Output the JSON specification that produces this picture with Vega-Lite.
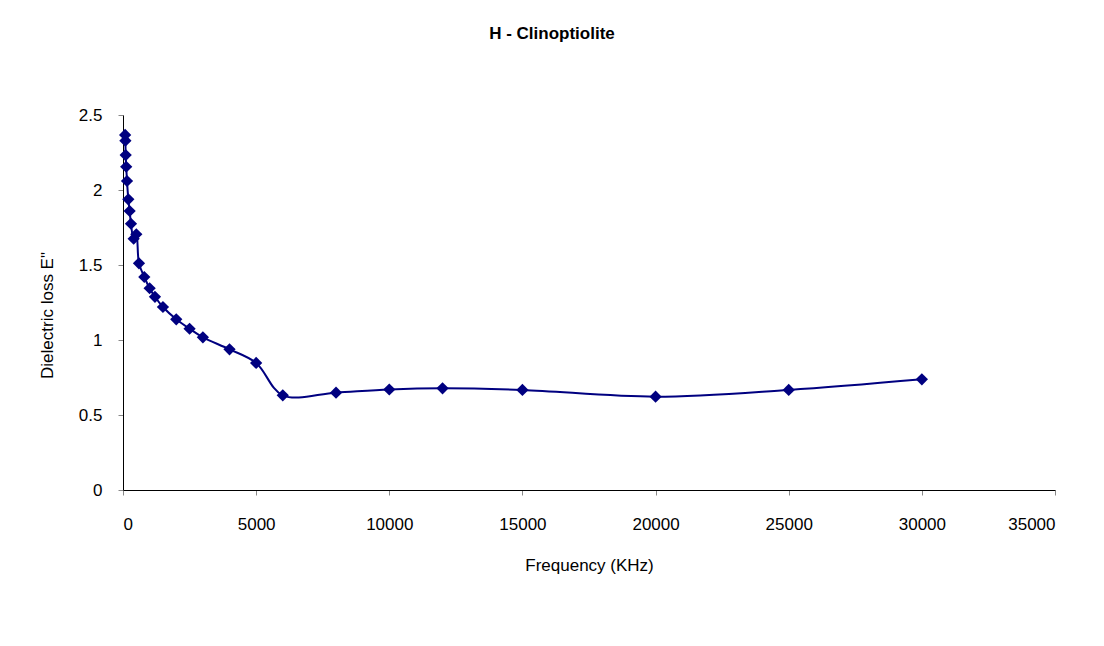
{
  "$schema": "https://vega.github.io/schema/vega-lite/v6.json",
  "width": 932,
  "height": 375,
  "autosize": "none",
  "padding": {"left": 123, "top": 115, "right": 49, "bottom": 156},
  "background": "white",
  "title": {"text": "H - Clinoptiolite", "font": "Liberation Sans", "fontSize": 17, "fontWeight": "bold", "color": "black", "anchor": "middle", "offset": 63, "dx": -37},
  "config": {"view": {"stroke": null}},
  "data": {"values": [
    {"f": 80, "e": 2.367},
    {"f": 90, "e": 2.329},
    {"f": 100, "e": 2.233},
    {"f": 120, "e": 2.155},
    {"f": 150, "e": 2.06},
    {"f": 200, "e": 1.938},
    {"f": 250, "e": 1.86},
    {"f": 300, "e": 1.775},
    {"f": 400, "e": 1.675},
    {"f": 500, "e": 1.705},
    {"f": 600, "e": 1.511},
    {"f": 800, "e": 1.42},
    {"f": 1000, "e": 1.345},
    {"f": 1200, "e": 1.288},
    {"f": 1500, "e": 1.22},
    {"f": 2000, "e": 1.138},
    {"f": 2500, "e": 1.075},
    {"f": 3000, "e": 1.018},
    {"f": 4000, "e": 0.938},
    {"f": 5000, "e": 0.847},
    {"f": 6000, "e": 0.631},
    {"f": 8000, "e": 0.649},
    {"f": 10000, "e": 0.67},
    {"f": 12000, "e": 0.678},
    {"f": 15000, "e": 0.667},
    {"f": 20000, "e": 0.622},
    {"f": 25000, "e": 0.667},
    {"f": 30000, "e": 0.738}
  ]},
  "encoding": {
    "x": {"field": "f", "type": "quantitative", "scale": {"domain": [0, 35000], "nice": false},
      "axis": {"title": "Frequency (KHz)", "values": [0, 5000, 10000, 15000, 20000, 25000, 30000, 35000], "format": "d", "grid": false,
        "domainColor": "black", "tickColor": "#888888", "tickSize": 5, "labelFont": "Liberation Sans", "labelFontSize": 17, "labelColor": "black", "labelPadding": 21,
        "titleFont": "Liberation Sans", "titleFontSize": 17, "titleFontWeight": "normal", "titleColor": "black", "titlePadding": 25}},
    "y": {"field": "e", "type": "quantitative", "scale": {"domain": [0, 2.5], "nice": false},
      "axis": {"title": "Dielectric loss E\"", "values": [0, 0.5, 1, 1.5, 2, 2.5], "format": "~g", "grid": false,
        "domainColor": "black", "tickColor": "#888888", "tickSize": 5, "labelFont": "Liberation Sans", "labelFontSize": 17, "labelColor": "black", "labelPadding": 16,
        "titleFont": "Liberation Sans", "titleFontSize": 17, "titleFontWeight": "normal", "titleColor": "black", "titlePadding": 22, "titleY": 200}}
  },
  "layer": [
    {"mark": {"type": "line", "interpolate": "catmull-rom", "color": "#000080", "strokeWidth": 2}},
    {"mark": {"type": "point", "shape": "diamond", "filled": true, "size": 150, "color": "#000080", "opacity": 1}}
  ]
}
